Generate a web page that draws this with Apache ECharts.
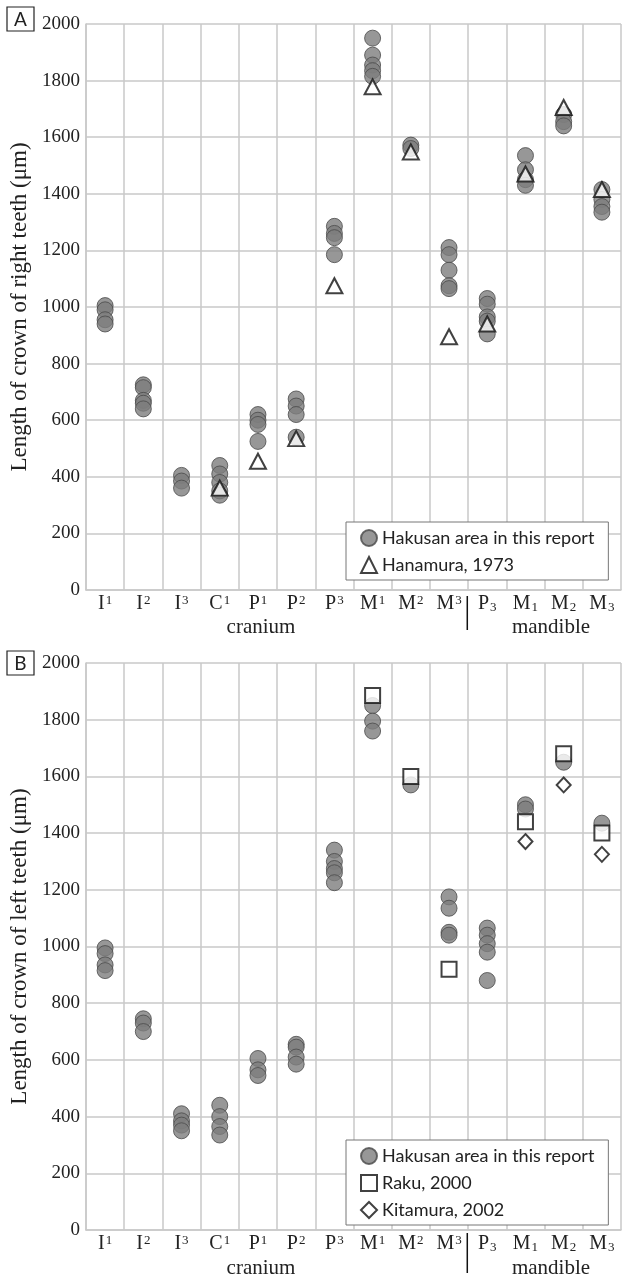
<!DOCTYPE html>
<html>
<head>
<meta charset="utf-8">
<script src="https://cdn.jsdelivr.net/npm/echarts@6/dist/echarts.min.js"></script>
<style>
  html, body { margin: 0; padding: 0; background: #fff; }
  #main { width: 622px; height: 1281px; }
</style>
</head>
<body>
<div id="main"></div>
<script>
// tooth categories: ^ = superscript (upper jaw), _ = subscript (lower jaw)
const teeth = ['I^1', 'I^2', 'I^3', 'C^1', 'P^1', 'P^2', 'P^3', 'M^1', 'M^2', 'M^3', 'P_3', 'M_1', 'M_2', 'M_3'];
const yTicks = [0, 200, 400, 600, 800, 1000, 1200, 1400, 1600, 1800, 2000];

// panel A: right teeth (μm)
const hakusanRight = [
  [1005, 990, 955, 940],
  [725, 715, 670, 660, 640],
  [405, 385, 360],
  [440, 410, 380, 350, 335],
  [620, 600, 585, 525],
  [675, 650, 620, 540],
  [1285, 1260, 1245, 1185],
  [1950, 1890, 1855, 1835, 1815],
  [1572, 1560],
  [1210, 1185, 1130, 1075, 1065],
  [1030, 1010, 965, 950, 905],
  [1535, 1485, 1450, 1430],
  [1680, 1655, 1640],
  [1415, 1380, 1355, 1335]
];
const hanamura1973 = [null, null, null, 360, 455, 535, 1075, 1778, 1548, 895, 940, 1470, 1705, 1415];

// panel B: left teeth (μm)
const hakusanLeft = [
  [995, 975, 935, 915],
  [745, 730, 700],
  [410, 385, 370, 350],
  [440, 400, 365, 335],
  [605, 565, 545],
  [655, 645, 610, 585],
  [1340, 1300, 1275, 1260, 1225],
  [1850, 1795, 1760],
  [1570],
  [1175, 1135, 1050, 1040],
  [1065, 1040, 1010, 980, 880],
  [1500, 1485],
  [1650],
  [1435]
];
const raku2000 = [null, null, null, null, null, null, null, 1885, 1600, 920, null, 1440, 1680, 1400];
const kitamura2002 = [null, null, null, null, null, null, null, null, null, null, null, 1370, 1570, 1325];

const serif = 'Liberation Serif';
const sans = 'Lato';
const gridColor = '#c9c9c9';

function toPoints(groups) {
  const pts = [];
  groups.forEach((vals, i) => vals.forEach(v => pts.push([i, v])));
  return pts;
}
function toSingle(vals) {
  const pts = [];
  vals.forEach((v, i) => { if (v != null) pts.push([i, v]); });
  return pts;
}
function tickLabel(name) {
  const base = name.charAt(0), pos = name.charAt(1), idx = name.slice(2);
  return '{b|' + base + '}' + (pos === '^' ? '{sup|' + idx + '}' : '{sub|' + idx + '}');
}

const gridLeft = 83, gridWidth = 538;
const grids = [
  { left: gridLeft, top: 24, width: gridWidth, height: 566 },
  { left: gridLeft, top: 663, width: gridWidth, height: 567 }
];
const yNames = ['Length of crown of right teeth (μm)', 'Length of crown of left teeth (μm)'];

function xAxis(gi) {
  return {
    type: 'category', gridIndex: gi, data: teeth, boundaryGap: true,
    axisLine: { lineStyle: { color: gridColor, width: 1.5 } },
    axisTick: { show: false },
    splitLine: { show: true, interval: 0, lineStyle: { color: gridColor, width: 1.5 } },
    axisLabel: {
      interval: 0, margin: 4,
      formatter: v => tickLabel(v),
      rich: {
        b: { fontFamily: serif, fontSize: 20, color: '#222', lineHeight: 20 },
        sup: { fontFamily: serif, fontSize: 13, color: '#222', lineHeight: 15, verticalAlign: 'top', padding: [0, 0, 0, 1] },
        sub: { fontFamily: serif, fontSize: 13, color: '#222', lineHeight: 13, verticalAlign: 'bottom', padding: [0, 0, 0, 1] }
      }
    }
  };
}
function yAxis(gi) {
  return {
    type: 'value', gridIndex: gi, min: 0, max: 2000, interval: 200,
    name: yNames[gi], nameLocation: 'middle', nameGap: 55,
    nameTextStyle: { fontFamily: serif, fontSize: 23, color: '#222' },
    axisLine: { show: true, lineStyle: { color: gridColor, width: 1.5 } },
    axisTick: { show: false },
    splitLine: { lineStyle: { color: gridColor, width: 1.5 } },
    axisLabel: { fontFamily: serif, fontSize: 19, color: '#222', margin: 6,
      formatter: v => yTicks.indexOf(v) >= 0 ? String(v) : '' }
  };
}

const hakusanStyle = { color: '#7d7d7d', borderColor: '#4a4a4a', borderWidth: 1 };
const openStyle = { color: '#fff', borderColor: '#111', borderWidth: 2 };
const HAK = 'Hakusan area in this report';

const legendBase = {
  orient: 'vertical', left: 346, backgroundColor: '#fff',
  borderColor: '#777', borderWidth: 1, padding: [7, 14, 6, 14],
  itemGap: 9, itemWidth: 16, itemHeight: 16,
  textStyle: { fontFamily: sans, fontSize: 18, color: '#222' }
};

const sepX = gridLeft + gridWidth * 10 / teeth.length;
const labelFont = '21px "Liberation Serif"';

var myChart = echarts.init(document.getElementById('main'));
var option = {
  animation: false,
  backgroundColor: '#fff',
  grid: grids,
  xAxis: [xAxis(0), xAxis(1)],
  yAxis: [yAxis(0), yAxis(1)],
  legend: [
    Object.assign({}, legendBase, { top: 522, data: [HAK, 'Hanamura, 1973'] }),
    Object.assign({}, legendBase, { top: 1140, data: [HAK, 'Raku, 2000', 'Kitamura, 2002'] })
  ],
  series: [
    { name: HAK, type: 'scatter', xAxisIndex: 0, yAxisIndex: 0, symbol: 'circle', symbolSize: 16,
      itemStyle: hakusanStyle, data: toPoints(hakusanRight) },
    { name: 'Hanamura, 1973', type: 'scatter', xAxisIndex: 0, yAxisIndex: 0, symbol: 'triangle', symbolSize: [16, 15],
      itemStyle: openStyle, z: 3, data: toSingle(hanamura1973) },
    { name: HAK, type: 'scatter', xAxisIndex: 1, yAxisIndex: 1, symbol: 'circle', symbolSize: 16,
      itemStyle: hakusanStyle, data: toPoints(hakusanLeft) },
    { name: 'Raku, 2000', type: 'scatter', xAxisIndex: 1, yAxisIndex: 1, symbol: 'rect', symbolSize: 15,
      itemStyle: openStyle, z: 3, data: toSingle(raku2000) },
    { name: 'Kitamura, 2002', type: 'scatter', xAxisIndex: 1, yAxisIndex: 1, symbol: 'diamond', symbolSize: [14, 15],
      itemStyle: openStyle, z: 3, data: toSingle(kitamura2002) }
  ],
  graphic: [
    { type: 'rect', shape: { x: 7, y: 7, width: 27, height: 24 }, style: { fill: '#fff', stroke: '#222', lineWidth: 1.2 } },
    { type: 'text', x: 20.5, y: 19.5, style: { text: 'A', font: '19px Lato', fill: '#222', textAlign: 'center', textVerticalAlign: 'middle' } },
    { type: 'rect', shape: { x: 7, y: 651, width: 27, height: 24 }, style: { fill: '#fff', stroke: '#222', lineWidth: 1.2 } },
    { type: 'text', x: 20.5, y: 663.5, style: { text: 'B', font: '19px Lato', fill: '#222', textAlign: 'center', textVerticalAlign: 'middle' } },
    { type: 'text', x: 261, y: 627, style: { text: 'cranium', font: labelFont, fill: '#222', textAlign: 'center', textVerticalAlign: 'middle' } },
    { type: 'text', x: 551, y: 627, style: { text: 'mandible', font: labelFont, fill: '#222', textAlign: 'center', textVerticalAlign: 'middle' } },
    { type: 'text', x: 261, y: 1268, style: { text: 'cranium', font: labelFont, fill: '#222', textAlign: 'center', textVerticalAlign: 'middle' } },
    { type: 'text', x: 551, y: 1268, style: { text: 'mandible', font: labelFont, fill: '#222', textAlign: 'center', textVerticalAlign: 'middle' } },
    { type: 'line', shape: { x1: sepX, y1: 596, x2: sepX, y2: 630 }, style: { stroke: '#111', lineWidth: 1.5 } },
    { type: 'line', shape: { x1: sepX, y1: 1233, x2: sepX, y2: 1273 }, style: { stroke: '#111', lineWidth: 1.5 } }
  ]
};

option && myChart.setOption(option);
</script>
</body>
</html>
